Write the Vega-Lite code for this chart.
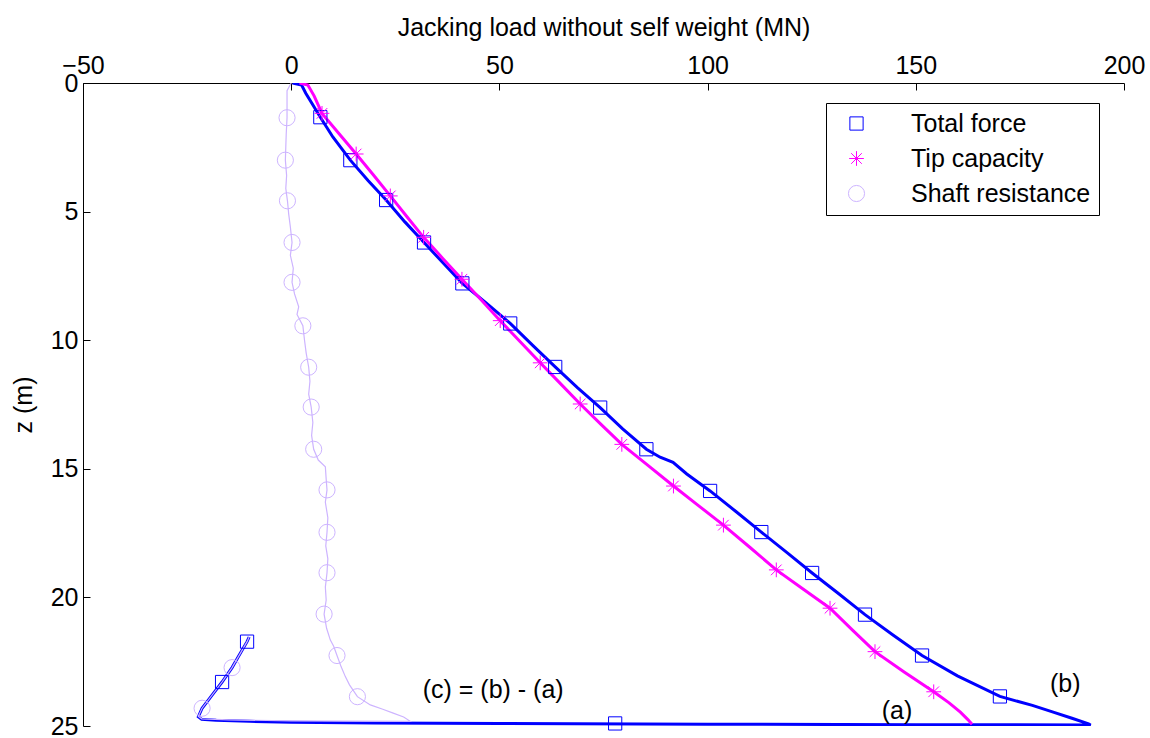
{
  "$schema": "https://vega.github.io/schema/vega-lite/v6.json",
  "autosize": {"type": "none"},
  "width": 1041,
  "height": 643,
  "padding": {"left": 83, "top": 83, "right": 26, "bottom": 12},
  "background": "white",
  "config": {
    "view": {"stroke": null},
    "font": "Liberation Sans",
    "axis": {
      "grid": false,
      "domainColor": "black",
      "tickColor": "black",
      "labelColor": "black",
      "titleColor": "black",
      "labelFontSize": 25,
      "titleFontSize": 25,
      "titleFontWeight": "normal",
      "labelFlush": false,
      "labelOverlap": false,
      "tickSize": -7
    },
    "legend": {
      "orient": "none",
      "legendX": 743,
      "legendY": 20,
      "strokeColor": "black",
      "fillColor": "white",
      "padding": 8,
      "labelFontSize": 25,
      "labelColor": "black",
      "labelLimit": 0,
      "symbolSize": 200,
      "symbolStrokeWidth": 1,
      "rowPadding": 9,
      "labelOffset": 42,
      "symbolOffset": 10
    }
  },
  "datasets": {
    "curves": [
      {"series": "Total force", "x": 0.3, "z": 0},
      {"series": "Total force", "x": 2.5, "z": 0.08},
      {"series": "Total force", "x": 3.5, "z": 0.4},
      {"series": "Total force", "x": 5, "z": 0.8},
      {"series": "Total force", "x": 7, "z": 1.33},
      {"series": "Total force", "x": 10, "z": 2.1},
      {"series": "Total force", "x": 14.2, "z": 3.0},
      {"series": "Total force", "x": 18.5, "z": 3.8},
      {"series": "Total force", "x": 22.8, "z": 4.55},
      {"series": "Total force", "x": 27.3, "z": 5.4},
      {"series": "Total force", "x": 31.9, "z": 6.2},
      {"series": "Total force", "x": 36.5, "z": 7.0},
      {"series": "Total force", "x": 41.1, "z": 7.79},
      {"series": "Total force", "x": 46.8, "z": 8.55},
      {"series": "Total force", "x": 52.6, "z": 9.35},
      {"series": "Total force", "x": 58, "z": 10.2},
      {"series": "Total force", "x": 63.4, "z": 11.04},
      {"series": "Total force", "x": 68.8, "z": 11.85},
      {"series": "Total force", "x": 74.2, "z": 12.62},
      {"series": "Total force", "x": 79.6, "z": 13.45},
      {"series": "Total force", "x": 85.3, "z": 14.24},
      {"series": "Total force", "x": 88.6, "z": 14.55},
      {"series": "Total force", "x": 91.7, "z": 14.75},
      {"series": "Total force", "x": 95, "z": 15.2},
      {"series": "Total force", "x": 100.6, "z": 15.86},
      {"series": "Total force", "x": 106.8, "z": 16.66},
      {"series": "Total force", "x": 112.9, "z": 17.46},
      {"series": "Total force", "x": 119, "z": 18.25},
      {"series": "Total force", "x": 125.1, "z": 19.05},
      {"series": "Total force", "x": 131.5, "z": 19.86},
      {"series": "Total force", "x": 137.8, "z": 20.67},
      {"series": "Total force", "x": 144.6, "z": 21.47},
      {"series": "Total force", "x": 151.5, "z": 22.26},
      {"series": "Total force", "x": 160, "z": 23.05},
      {"series": "Total force", "x": 170.2, "z": 23.85},
      {"series": "Total force", "x": 178, "z": 24.2},
      {"series": "Total force", "x": 183, "z": 24.46},
      {"series": "Total force", "x": 187.5, "z": 24.7},
      {"series": "Total force", "x": 191.5, "z": 24.92},
      {"series": "Total force", "x": 192, "z": 24.96},
      {"series": "Total force", "x": 150, "z": 24.95},
      {"series": "Total force", "x": 100, "z": 24.93},
      {"series": "Total force", "x": 50, "z": 24.9},
      {"series": "Total force", "x": 20, "z": 24.88},
      {"series": "Total force", "x": 0, "z": 24.85},
      {"series": "Total force", "x": -10, "z": 24.82},
      {"series": "Total force", "x": -18, "z": 24.78},
      {"series": "Total force", "x": -21.5, "z": 24.74},
      {"series": "Total force", "x": -22.3, "z": 24.64},
      {"series": "Total force", "x": -21.4, "z": 24.31},
      {"series": "Total force", "x": -19, "z": 23.8},
      {"series": "Total force", "x": -16.6, "z": 23.29},
      {"series": "Total force", "x": -14.2, "z": 22.73},
      {"series": "Total force", "x": -12.5, "z": 22.25},
      {"series": "Total force", "x": -10.6, "z": 21.72},
      {"series": "Total force", "x": -10.1, "z": 21.54},

      {"series": "Tip capacity", "x": 2, "z": 0},
      {"series": "Tip capacity", "x": 4, "z": 0.08},
      {"series": "Tip capacity", "x": 5.5, "z": 0.5},
      {"series": "Tip capacity", "x": 7.4, "z": 1.18},
      {"series": "Tip capacity", "x": 11.5, "z": 1.97},
      {"series": "Tip capacity", "x": 15.6, "z": 2.76},
      {"series": "Tip capacity", "x": 19.7, "z": 3.57},
      {"series": "Tip capacity", "x": 23.8, "z": 4.39},
      {"series": "Tip capacity", "x": 27.8, "z": 5.2},
      {"series": "Tip capacity", "x": 31.8, "z": 6.0},
      {"series": "Tip capacity", "x": 36.4, "z": 6.82},
      {"series": "Tip capacity", "x": 41.0, "z": 7.63},
      {"series": "Tip capacity", "x": 45.6, "z": 8.43},
      {"series": "Tip capacity", "x": 50.2, "z": 9.24},
      {"series": "Tip capacity", "x": 55, "z": 10.06},
      {"series": "Tip capacity", "x": 59.8, "z": 10.88},
      {"series": "Tip capacity", "x": 64.6, "z": 11.68},
      {"series": "Tip capacity", "x": 69.4, "z": 12.48},
      {"series": "Tip capacity", "x": 74.4, "z": 13.27},
      {"series": "Tip capacity", "x": 79.4, "z": 14.05},
      {"series": "Tip capacity", "x": 85.6, "z": 14.86},
      {"series": "Tip capacity", "x": 91.8, "z": 15.67},
      {"series": "Tip capacity", "x": 97.8, "z": 16.43},
      {"series": "Tip capacity", "x": 103.8, "z": 17.19},
      {"series": "Tip capacity", "x": 110.2, "z": 18.06},
      {"series": "Tip capacity", "x": 116.5, "z": 18.93},
      {"series": "Tip capacity", "x": 123, "z": 19.68},
      {"series": "Tip capacity", "x": 129.4, "z": 20.42},
      {"series": "Tip capacity", "x": 134.8, "z": 21.27},
      {"series": "Tip capacity", "x": 140.2, "z": 22.11},
      {"series": "Tip capacity", "x": 147.2, "z": 22.9},
      {"series": "Tip capacity", "x": 154.3, "z": 23.67},
      {"series": "Tip capacity", "x": 158, "z": 24.1},
      {"series": "Tip capacity", "x": 160.7, "z": 24.46},
      {"series": "Tip capacity", "x": 162.5, "z": 24.75},
      {"series": "Tip capacity", "x": 163.5, "z": 24.93},

      {"series": "Shaft resistance", "x": 0, "z": 0},
      {"series": "Shaft resistance", "x": -1, "z": 0.3},
      {"series": "Shaft resistance", "x": -1, "z": 0.8},
      {"series": "Shaft resistance", "x": -1, "z": 1.35},
      {"series": "Shaft resistance", "x": -1.2, "z": 2},
      {"series": "Shaft resistance", "x": -1.3, "z": 2.5},
      {"series": "Shaft resistance", "x": -1.4, "z": 3.0},
      {"series": "Shaft resistance", "x": -1.1, "z": 3.6},
      {"series": "Shaft resistance", "x": -1.3, "z": 4.1},
      {"series": "Shaft resistance", "x": -0.9, "z": 4.58},
      {"series": "Shaft resistance", "x": -0.6, "z": 5.1},
      {"series": "Shaft resistance", "x": -0.2, "z": 5.6},
      {"series": "Shaft resistance", "x": 0.2, "z": 6.2},
      {"series": "Shaft resistance", "x": -0.2, "z": 6.7},
      {"series": "Shaft resistance", "x": 0.5, "z": 7.2},
      {"series": "Shaft resistance", "x": 0.2, "z": 7.75},
      {"series": "Shaft resistance", "x": 0.8, "z": 8.2},
      {"series": "Shaft resistance", "x": 1.8, "z": 8.7},
      {"series": "Shaft resistance", "x": 1.4, "z": 9.0},
      {"series": "Shaft resistance", "x": 2.8, "z": 9.44},
      {"series": "Shaft resistance", "x": 3.2, "z": 10.0},
      {"series": "Shaft resistance", "x": 3.6, "z": 10.5},
      {"series": "Shaft resistance", "x": 4.2, "z": 11.05},
      {"series": "Shaft resistance", "x": 4.5, "z": 11.6},
      {"series": "Shaft resistance", "x": 4.2, "z": 12.1},
      {"series": "Shaft resistance", "x": 4.8, "z": 12.6},
      {"series": "Shaft resistance", "x": 5.2, "z": 13.2},
      {"series": "Shaft resistance", "x": 4.9, "z": 13.7},
      {"series": "Shaft resistance", "x": 5.4, "z": 14.24},
      {"series": "Shaft resistance", "x": 6.5, "z": 14.66},
      {"series": "Shaft resistance", "x": 8.2, "z": 14.92},
      {"series": "Shaft resistance", "x": 8.4, "z": 15.4},
      {"series": "Shaft resistance", "x": 8.6, "z": 15.82},
      {"series": "Shaft resistance", "x": 8.2, "z": 16.3},
      {"series": "Shaft resistance", "x": 8.8, "z": 16.9},
      {"series": "Shaft resistance", "x": 8.6, "z": 17.47},
      {"series": "Shaft resistance", "x": 8.3, "z": 18.0},
      {"series": "Shaft resistance", "x": 8.8, "z": 18.5},
      {"series": "Shaft resistance", "x": 8.6, "z": 19.04},
      {"series": "Shaft resistance", "x": 8.2, "z": 19.6},
      {"series": "Shaft resistance", "x": 8.4, "z": 20.1},
      {"series": "Shaft resistance", "x": 7.9, "z": 20.65},
      {"series": "Shaft resistance", "x": 8.5, "z": 21.2},
      {"series": "Shaft resistance", "x": 9.4, "z": 21.66},
      {"series": "Shaft resistance", "x": 10.2, "z": 21.9},
      {"series": "Shaft resistance", "x": 11.0, "z": 22.26},
      {"series": "Shaft resistance", "x": 12, "z": 22.7},
      {"series": "Shaft resistance", "x": 13.0, "z": 23.08},
      {"series": "Shaft resistance", "x": 14, "z": 23.4},
      {"series": "Shaft resistance", "x": 15.9, "z": 23.86},
      {"series": "Shaft resistance", "x": 19.0, "z": 24.18},
      {"series": "Shaft resistance", "x": 22, "z": 24.35},
      {"series": "Shaft resistance", "x": 24.5, "z": 24.5},
      {"series": "Shaft resistance", "x": 27, "z": 24.65},
      {"series": "Shaft resistance", "x": 28.6, "z": 24.82},
      {"series": "Shaft resistance", "x": 0, "z": 24.8},
      {"series": "Shaft resistance", "x": -15, "z": 24.76},
      {"series": "Shaft resistance", "x": -21.5, "z": 24.72},
      {"series": "Shaft resistance", "x": -22.3, "z": 24.62},
      {"series": "Shaft resistance", "x": -21.4, "z": 24.31},
      {"series": "Shaft resistance", "x": -16.6, "z": 23.29},
      {"series": "Shaft resistance", "x": -14.2, "z": 22.73},
      {"series": "Shaft resistance", "x": -10.6, "z": 21.72},
      {"series": "Shaft resistance", "x": -10.1, "z": 21.54}
    ],
    "markers": [
      {"series": "Total force", "x": 7.0, "z": 1.33},
      {"series": "Total force", "x": 14.2, "z": 3.0},
      {"series": "Total force", "x": 22.8, "z": 4.55},
      {"series": "Total force", "x": 31.9, "z": 6.2},
      {"series": "Total force", "x": 41.1, "z": 7.79},
      {"series": "Total force", "x": 52.6, "z": 9.35},
      {"series": "Total force", "x": 63.4, "z": 11.04},
      {"series": "Total force", "x": 74.2, "z": 12.62},
      {"series": "Total force", "x": 85.3, "z": 14.24},
      {"series": "Total force", "x": 100.6, "z": 15.86},
      {"series": "Total force", "x": 112.9, "z": 17.46},
      {"series": "Total force", "x": 125.1, "z": 19.05},
      {"series": "Total force", "x": 137.8, "z": 20.67},
      {"series": "Total force", "x": 151.5, "z": 22.26},
      {"series": "Total force", "x": 170.2, "z": 23.85},
      {"series": "Total force", "x": 77.8, "z": 24.9},
      {"series": "Total force", "x": -16.6, "z": 23.29},
      {"series": "Total force", "x": -10.6, "z": 21.72},
      {"series": "Tip capacity", "x": 7.4, "z": 1.18},
      {"series": "Tip capacity", "x": 15.6, "z": 2.76},
      {"series": "Tip capacity", "x": 23.8, "z": 4.39},
      {"series": "Tip capacity", "x": 31.8, "z": 6.0},
      {"series": "Tip capacity", "x": 41.0, "z": 7.63},
      {"series": "Tip capacity", "x": 50.2, "z": 9.24},
      {"series": "Tip capacity", "x": 59.8, "z": 10.88},
      {"series": "Tip capacity", "x": 69.4, "z": 12.48},
      {"series": "Tip capacity", "x": 79.4, "z": 14.05},
      {"series": "Tip capacity", "x": 91.8, "z": 15.67},
      {"series": "Tip capacity", "x": 103.8, "z": 17.19},
      {"series": "Tip capacity", "x": 116.5, "z": 18.93},
      {"series": "Tip capacity", "x": 129.4, "z": 20.42},
      {"series": "Tip capacity", "x": 140.2, "z": 22.11},
      {"series": "Tip capacity", "x": 154.3, "z": 23.67},
      {"series": "Shaft resistance", "x": -1.0, "z": 1.35},
      {"series": "Shaft resistance", "x": -1.4, "z": 3.0},
      {"series": "Shaft resistance", "x": -0.9, "z": 4.58},
      {"series": "Shaft resistance", "x": 0.2, "z": 6.2},
      {"series": "Shaft resistance", "x": 0.2, "z": 7.75},
      {"series": "Shaft resistance", "x": 2.8, "z": 9.44},
      {"series": "Shaft resistance", "x": 4.2, "z": 11.05},
      {"series": "Shaft resistance", "x": 4.8, "z": 12.6},
      {"series": "Shaft resistance", "x": 5.4, "z": 14.24},
      {"series": "Shaft resistance", "x": 8.6, "z": 15.82},
      {"series": "Shaft resistance", "x": 8.6, "z": 17.47},
      {"series": "Shaft resistance", "x": 8.6, "z": 19.04},
      {"series": "Shaft resistance", "x": 7.9, "z": 20.65},
      {"series": "Shaft resistance", "x": 11.0, "z": 22.26},
      {"series": "Shaft resistance", "x": 15.9, "z": 23.86},
      {"series": "Shaft resistance", "x": -14.2, "z": 22.73},
      {"series": "Shaft resistance", "x": -21.4, "z": 24.31}
    ],
    "notes": [
      {"label": "(c) = (b) - (a)", "x": 48.5, "z": 23.6},
      {"label": "(b)", "x": 185.9, "z": 23.37},
      {"label": "(a)", "x": 145.5, "z": 24.42}
    ]
  },
  "encoding": {
    "x": {
      "field": "x",
      "type": "quantitative",
      "scale": {"domain": [-50, 200], "nice": false, "zero": false},
      "axis": {
        "orient": "top",
        "values": [-50, 0, 50, 100, 150, 200],
        "title": "Jacking load without self weight (MN)",
        "labelPadding": 12,
        "titlePadding": 13
      }
    },
    "y": {
      "field": "z",
      "type": "quantitative",
      "scale": {"domain": [0, 25], "reverse": true, "nice": false, "zero": false},
      "axis": {
        "orient": "left",
        "values": [0, 5, 10, 15, 20, 25],
        "title": "z (m)",
        "labelPadding": 12,
        "titlePadding": 14
      }
    }
  },
  "layer": [
    {
      "data": {"name": "curves"},
      "transform": [{"filter": "datum.series === 'Total force'"}],
      "mark": {"type": "line", "color": "#0000ff", "strokeWidth": 3, "clip": true},
      "encoding": {"order": {"value": null}}
    },
    {
      "data": {"name": "curves"},
      "transform": [{"filter": "datum.series === 'Tip capacity'"}],
      "mark": {"type": "line", "color": "#ff00ff", "strokeWidth": 3, "clip": true},
      "encoding": {"order": {"value": null}}
    },
    {
      "data": {"name": "curves"},
      "transform": [{"filter": "datum.series === 'Shaft resistance'"}],
      "mark": {"type": "line", "color": "#cdb4ff", "strokeWidth": 1.2, "clip": true},
      "encoding": {"order": {"value": null}}
    },
    {
      "data": {"name": "markers"},
      "mark": {"type": "point", "filled": false, "strokeWidth": 1, "opacity": 1},
      "encoding": {
        "color": {
          "field": "series",
          "type": "nominal",
          "scale": {"domain": ["Total force", "Tip capacity", "Shaft resistance"], "range": ["#0000ff", "#ff00ff", "#cdb4ff"]},
          "legend": {"title": null}
        },
        "shape": {
          "field": "series",
          "type": "nominal",
          "scale": {"domain": ["Total force", "Tip capacity", "Shaft resistance"], "range": ["square", "M-1,0H1M0,-1V1M-0.72,-0.72L0.72,0.72M-0.72,0.72L0.72,-0.72", "circle"]},
          "legend": {"title": null}
        },
        "size": {
          "field": "series",
          "type": "nominal",
          "scale": {"domain": ["Total force", "Tip capacity", "Shaft resistance"], "range": [175, 260, 290]},
          "legend": null
        }
      }
    },
    {
      "data": {"name": "notes"},
      "mark": {"type": "text", "fontSize": 25, "color": "black", "align": "center", "baseline": "middle"},
      "encoding": {"text": {"field": "label"}}
    }
  ]
}
